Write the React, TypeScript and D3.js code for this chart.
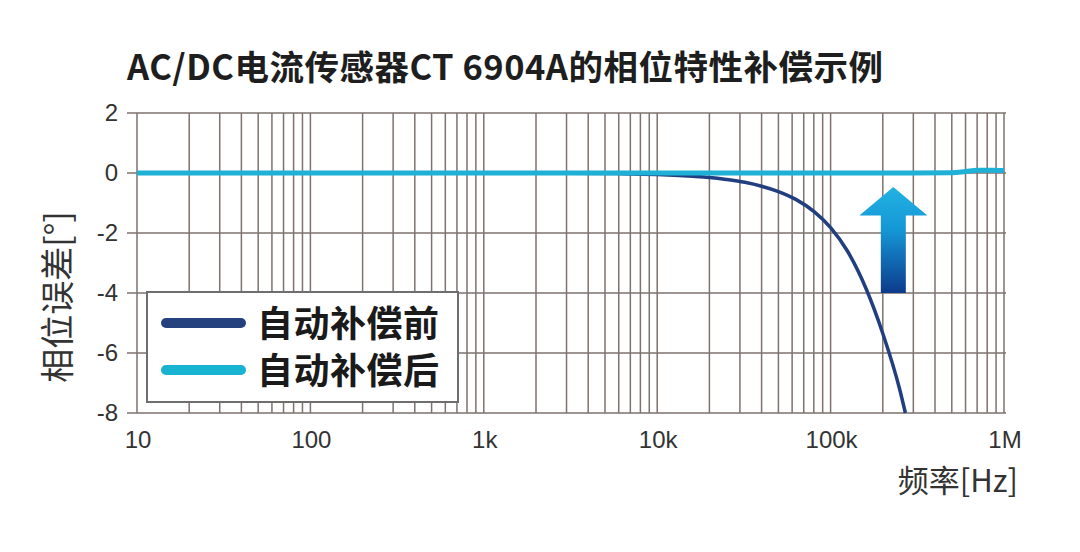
import React from "react";
import * as d3 from "d3";

const title = "AC/DC电流传感器CT 6904A的相位特性补偿示例";
const yLabel = "相位误差[°]";
const xLabel = "频率[Hz]";

const yTicks = [2, 0, -2, -4, -6, -8];
const xTickValues = [10, 100, 1000, 10000, 100000, 1000000];
const xTickLabels = ["10", "100", "1k", "10k", "100k", "1M"];

const legendNames = ["自动补偿前", "自动补偿后"];

// Before automatic compensation
const beforeFreq = [10, 100, 1000, 3000, 6000, 10000, 12500, 16000, 20000, 25000, 32000, 40000, 50000, 63000, 80000, 100000, 125000, 160000, 200000, 250000, 270000];
const beforePhase = [0, 0, 0, -0.005, -0.02, -0.05, -0.075, -0.11, -0.15, -0.215, -0.31, -0.44, -0.62, -0.88, -1.28, -1.82, -2.6, -3.85, -5.35, -7.2, -8.0];

// After automatic compensation
const afterFreq = [10, 100, 1000, 10000, 100000, 300000, 500000, 600000, 700000, 850000, 1000000];
const afterPhase = [0, 0, 0, 0, 0, 0, 0.01, 0.05, 0.09, 0.09, 0.08];

const W = 1080;
const H = 552;
const left = 137;
const right = 1004;
const top = 113;
const bottom = 413;

const gridColor = "#7d726e";
const darkBlue = "#213f80";
const cyan = "#1fb0d6";

export default function App() {
  const x = d3.scaleLog().domain([10, 1e6]).range([left, right]);
  const y = d3.scaleLinear().domain([-8, 2]).range([bottom, top]);

  const minor: number[] = [];
  for (let e = 1; e < 6; e++) {
    for (let m = 1; m < 10; m++) minor.push(m * Math.pow(10, e));
  }
  minor.push(1e6);

  const line = d3
    .line<[number, number]>()
    .x((d) => x(d[0]))
    .y((d) => y(d[1]))
    .curve(d3.curveMonotoneX);

  const before = beforeFreq.map((f, i) => [f, beforePhase[i]] as [number, number]);
  const after = afterFreq.map((f, i) => [f, afterPhase[i]] as [number, number]);

  const arrowX = x(230000);
  const arrowTip = y(-0.47);
  const headBase = y(-1.42);
  const shaftBottom = y(-4);
  const headHalf = 34;
  const shaftHalf = 12.5;
  const arrowPts = [
    [arrowX, arrowTip],
    [arrowX + headHalf, headBase],
    [arrowX + shaftHalf, headBase],
    [arrowX + shaftHalf, shaftBottom],
    [arrowX - shaftHalf, shaftBottom],
    [arrowX - shaftHalf, headBase],
    [arrowX - headHalf, headBase],
  ]
    .map((p) => p.join(","))
    .join(" ");

  const lgX = 147;
  const lgY = 292;

  return (
    <svg
      width={W}
      height={H}
      style={{ position: "absolute", left: 0, top: 0, background: "#fff" }}
    >
      <defs>
        <linearGradient id="arrowGrad" x1="0" y1="0" x2="0" y2="1">
          <stop offset="0%" stopColor="#22b2e3" />
          <stop offset="40%" stopColor="#1597d6" />
          <stop offset="100%" stopColor="#0c3b8c" />
        </linearGradient>
      </defs>

      <text
        x={127}
        y={80}
        fontFamily="'Noto Sans CJK SC', 'Noto Sans', sans-serif"
        fontWeight={700}
        fontSize={34.5}
        letterSpacing={0.5}
        fill="#1e1e1e"
      >
        {title}
      </text>

      {/* vertical grid */}
      {minor.map((f, i) => (
        <line
          key={"v" + i}
          x1={x(f)}
          x2={x(f)}
          y1={top}
          y2={bottom}
          stroke={gridColor}
          strokeWidth={1.5}
        />
      ))}
      {/* horizontal grid */}
      {yTicks.map((t) => (
        <line
          key={"h" + t}
          x1={left - 10}
          x2={right + 2}
          y1={y(t)}
          y2={y(t)}
          stroke={gridColor}
          strokeWidth={1.5}
        />
      ))}

      {/* y tick labels */}
      {yTicks.map((t) => (
        <text
          key={"yl" + t}
          x={118}
          y={y(t) + 8}
          textAnchor="end"
          fontFamily="'Liberation Sans', Arial, sans-serif"
          fontSize={24}
          fill="#333"
        >
          {t}
        </text>
      ))}

      {/* x tick labels */}
      {xTickValues.map((v, i) => (
        <text
          key={"xl" + v}
          x={x(v) + 1}
          y={448}
          textAnchor="middle"
          fontFamily="'Liberation Sans', Arial, sans-serif"
          fontSize={24}
          fill="#333"
        >
          {xTickLabels[i]}
        </text>
      ))}

      {/* curves */}
      <path d={line(before) || ""} fill="none" stroke={darkBlue} strokeWidth={3.5} />
      <path d={line(after) || ""} fill="none" stroke={cyan} strokeWidth={5} />

      {/* arrow */}
      <polygon points={arrowPts} fill="url(#arrowGrad)" />

      {/* legend */}
      <rect
        x={lgX}
        y={lgY}
        width={311}
        height={110}
        fill="#fff"
        stroke="#6e6e6e"
        strokeWidth={2}
      />
      {legendNames.map((name, i) => (
        <g key={name}>
          <line
            x1={lgX + 19}
            x2={lgX + 94}
            y1={lgY + 31 + i * 47}
            y2={lgY + 31 + i * 47}
            stroke={i === 0 ? "#25427f" : "#17b3d0"}
            strokeWidth={10}
            strokeLinecap="round"
          />
          <text
            x={lgX + 110}
            y={lgY + 45 + i * 47}
            fontFamily="'Noto Sans CJK SC', sans-serif"
            fontWeight={700}
            fontSize={36}
            letterSpacing={0.5}
            fill="#1a1a1a"
          >
            {name}
          </text>
        </g>
      ))}

      {/* axis titles */}
      <text
        transform={`translate(70, ${297}) rotate(-90)`}
        textAnchor="middle"
        fontFamily="'Noto Sans CJK SC', sans-serif"
        fontSize={34}
        fill="#333"
      >
        {yLabel}
      </text>
      <text
        x={1018}
        y={492}
        textAnchor="end"
        fontFamily="'Noto Sans CJK SC', sans-serif"
        fontSize={31}
        fill="#333"
      >
        {xLabel}
      </text>
    </svg>
  );
}
